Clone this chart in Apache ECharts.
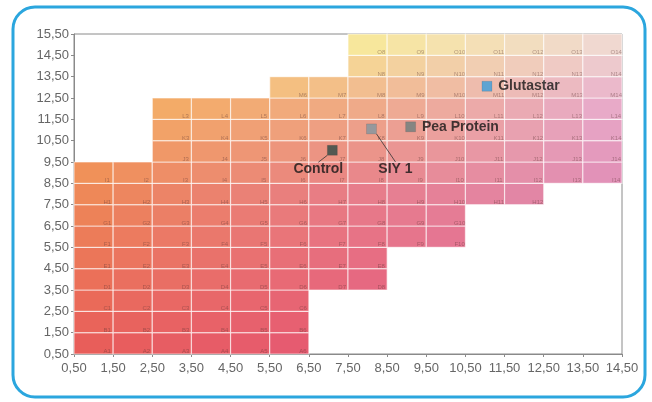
<!DOCTYPE html>
<html>
<head>
<meta charset="utf-8">
<script src="https://cdn.jsdelivr.net/npm/echarts@6/dist/echarts.min.js"></script>
<style>
  html, body { margin: 0; padding: 0; background: #fff; }
  #main { width: 652px; height: 402px; }
</style>
</head>
<body>
<div id="main"></div>
<script>
// rows of the colour grid, bottom (A) to top (O)
var rowLetters = ['A', 'B', 'C', 'D', 'E', 'F', 'G', 'H', 'I', 'J', 'K', 'L', 'M', 'N', 'O'];
// first and last column that exists in each row
var rowStart = [1, 1, 1, 1, 1, 1, 1, 1, 1, 3, 3, 3, 6, 8, 8];
var rowEnd = [6, 6, 6, 8, 8, 10, 10, 12, 14, 14, 14, 14, 14, 14, 14];

// products placed on the grid
var pointNames = ['Control', 'SIY 1', 'Pea Protein', 'Glutastar'];
var pointX = [7.1, 8.1, 9.1, 11.05];
var pointY = [10.05, 11.05, 11.15, 13.05];

// axis ends (the axis runs shifted by 0.5 so ticks fall on x,50)
var SHIFT = 0.5;
var xTicks = [0.5, 14.5];
var yTicks = [0.5, 15.5];

var pointColors = ['#2d4a46', '#7f96a0', '#6b7e7e', '#3a9ddb'];

// colour of a cell: interpolated between a few anchor colours
var anchorCols = [1, 7.5, 14];
var anchorRows = [1, 8, 12, 15];
var anchors = [
    [[232, 94, 90], [230, 90, 118], [224, 92, 150]],
    [[238, 136, 88], [232, 124, 136], [224, 138, 178]],
    [[245, 172, 92], [240, 170, 132], [232, 170, 200]],
    [[252, 228, 110], [248, 232, 152], [240, 216, 208]]
];

function lerp(a, b, t) {
    return [a[0] + (b[0] - a[0]) * t, a[1] + (b[1] - a[1]) * t, a[2] + (b[2] - a[2]) * t];
}

function seg(v, arr) {
    var i = 0;
    while (i < arr.length - 2 && v > arr[i + 1]) i++;
    return [i, (v - arr[i]) / (arr[i + 1] - arr[i])];
}

function colorAt(c, r) {
    var sc = seg(c, anchorCols);
    var sr = seg(r, anchorRows);
    var lo = lerp(anchors[sr[0]][sc[0]], anchors[sr[0]][sc[0] + 1], sc[1]);
    var hi = lerp(anchors[sr[0] + 1][sc[0]], anchors[sr[0] + 1][sc[0] + 1], sc[1]);
    var m = lerp(lo, hi, sr[1]);
    return 'rgb(' + Math.round(m[0]) + ',' + Math.round(m[1]) + ',' + Math.round(m[2]) + ')';
}

var cells = [];
rowLetters.forEach(function (letter, i) {
    for (var c = rowStart[i]; c <= rowEnd[i]; c++) {
        cells.push([c, i + 1, letter + c]);
    }
});

function fmt(v) {
    return (v + SHIFT).toFixed(2).replace('.', ',');
}

// Control and SIY 1 have their names moved below, with a leader line
var labelOffsets = [[-14, 19], [24, 40], null, null];

var points = pointNames.map(function (name, i) {
    var moved = !!labelOffsets[i];
    return {
        name: name,
        value: [pointX[i] - SHIFT, pointY[i] - SHIFT],
        itemStyle: { color: pointColors[i], borderColor: 'rgba(0,0,0,0.25)', borderWidth: 0.5 },
        label: { show: true, position: moved ? 'inside' : 'right', distance: 6 },
        labelLine: { show: moved }
    };
});

var chart = echarts.init(document.getElementById('main'));

var option = {
    animation: false,
    backgroundColor: '#fff',
    grid: {
        left: 74, right: 30, top: 34, bottom: 48,
        show: true, borderColor: '#8a8a8a', borderWidth: 1, backgroundColor: 'transparent'
    },
    graphic: [{
        type: 'rect',
        shape: { x: 13, y: 7, width: 632, height: 390, r: 22 },
        style: { fill: 'none', stroke: '#2ba6de', lineWidth: 3 },
        silent: true
    }],
    xAxis: {
        type: 'value',
        min: xTicks[0] - SHIFT, max: xTicks[1] - SHIFT, interval: 1,
        axisLine: { show: true, lineStyle: { color: '#8a8a8a' } },
        axisTick: { show: true, length: 3, lineStyle: { color: '#8a8a8a' } },
        splitLine: { show: false },
        axisLabel: { formatter: fmt, color: '#666', fontSize: 13, fontFamily: 'Liberation Sans', margin: 8 }
    },
    yAxis: {
        type: 'value',
        min: yTicks[0] - SHIFT, max: yTicks[1] - SHIFT, interval: 1,
        axisLine: { show: true, lineStyle: { color: '#8a8a8a' } },
        axisTick: { show: true, length: 3, lineStyle: { color: '#8a8a8a' } },
        splitLine: { show: false },
        axisLabel: { formatter: fmt, color: '#666', fontSize: 13, fontFamily: 'Liberation Sans', margin: 5 }
    },
    series: [{
        type: 'custom',
        silent: true,
        data: cells,
        renderItem: function (params, api) {
            var c = api.value(0), r = api.value(1);
            var p0 = api.coord([c - 1, r - 1]);
            var p1 = api.coord([c, r]);
            var t = api.coord([c - 0.15, r - 0.88]);
            return {
                type: 'group',
                children: [{
                    type: 'rect',
                    shape: { x: p0[0], y: p1[1], width: p1[0] - p0[0], height: p0[1] - p1[1] },
                    style: { fill: colorAt(c, r), stroke: 'rgba(255,255,255,0.6)', lineWidth: 1.2 }
                }, {
                    type: 'text',
                    x: t[0], y: t[1],
                    style: {
                        text: cells[params.dataIndex][2],
                        fill: 'rgba(90,50,50,0.45)',
                        font: '6px "Liberation Sans"',
                        align: 'center', verticalAlign: 'middle'
                    }
                }]
            };
        }
    }, {
        type: 'scatter',
        symbol: 'rect',
        symbolSize: 10,
        data: points,
        z: 5,
        label: {
            color: '#151515', fontSize: 14, fontWeight: 'bold', fontFamily: 'Liberation Sans',
            formatter: '{b}'
        },
        labelLine: { lineStyle: { color: '#333', width: 0.8 }, length2: 0 },
        labelLayout: function (params) {
            var off = labelOffsets[params.dataIndex];
            if (!off) return {};
            return { dx: off[0], dy: off[1] };
        }
    }]
};

chart.setOption(option);
</script>
</body>
</html>
